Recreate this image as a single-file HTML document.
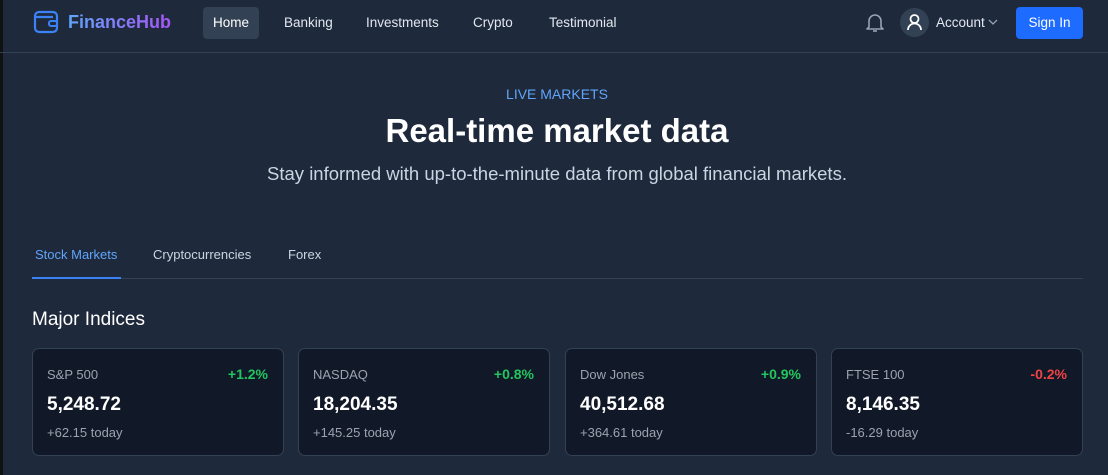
<!DOCTYPE html>
<html><head><meta charset="utf-8"><style>
*{box-sizing:border-box;margin:0;padding:0}
body{width:1108px;height:475px;overflow:hidden;background:#1e293b;font-family:"Liberation Sans","DejaVu Sans",sans-serif;position:relative;color:#fff}
.abs{position:absolute;white-space:nowrap}
.nav{position:absolute;left:0;top:0;width:1108px;height:53px;border-bottom:1px solid #334155}
.navi{font-size:13.5px;color:#e2e8f0;top:15px}
.card{position:absolute;top:348px;width:252px;height:108px;background:#111827;border:1px solid #334155;border-radius:7px}
.card .l{position:absolute;left:14px;top:18px;font-size:13px;color:#9ca3af}
.card .p{position:absolute;right:15px;top:17px;font-size:14px;color:#22c55e;font-weight:bold}
.card .v{position:absolute;left:14px;top:45px;font-size:19px;font-weight:bold;color:#fff}
.card .s{position:absolute;left:14px;top:76px;font-size:13px;color:#9ca3af}
</style></head><body>
<div class="abs" style="left:0;top:0;width:3px;height:475px;background:#111"></div>
<div class="nav">
<svg class="abs" style="left:33px;top:10px" width="26" height="24" viewBox="0 0 26 24"><rect x="2" y="2" width="22" height="20" rx="4" fill="none" stroke="#3b82f6" stroke-width="2.2"/><path d="M2 7h18" stroke="#3b82f6" stroke-width="2.2"/><rect x="16" y="11" width="8" height="5" rx="2" fill="#1e293b" stroke="#3b82f6" stroke-width="2"/></svg>
<div class="abs" style="left:68px;top:12px;font-size:18px;font-weight:bold;background:linear-gradient(90deg,#60a5fa,#a855f7);-webkit-background-clip:text;color:transparent">FinanceHub</div>
<div class="abs navi" style="left:203px;top:7px;width:56px;height:32px;background:#334155;border-radius:4px;text-align:center;line-height:32px;color:#fff">Home</div>
<div class="abs navi" style="left:284px">Banking</div>
<div class="abs navi" style="left:366px">Investments</div>
<div class="abs navi" style="left:473px">Crypto</div>
<div class="abs navi" style="left:549px">Testimonial</div>
<svg class="abs" style="left:864px;top:11px" width="22" height="22" viewBox="0 0 22 22"><path d="M5 16V10a6 6 0 0 1 12 0v6l2 2H3z" fill="none" stroke="#94a3b8" stroke-width="1.6" stroke-linejoin="round"/><path d="M9 20h4" stroke="#94a3b8" stroke-width="1.6"/></svg>
<div class="abs" style="left:900px;top:8px;width:29px;height:29px;border-radius:50%;background:#334155"><svg width="29" height="29" viewBox="0 0 29 29"><circle cx="14.5" cy="11" r="4" fill="none" stroke="#fff" stroke-width="1.8"/><path d="M8 22a6.5 6.5 0 0 1 13 0" fill="none" stroke="#fff" stroke-width="1.8"/></svg></div>
<div class="abs navi" style="left:936px">Account</div>
<svg class="abs" style="left:988px;top:19px" width="10" height="6" viewBox="0 0 10 6"><path d="M1 1l4 4 4-4" fill="none" stroke="#94a3b8" stroke-width="1.3"/></svg>
<div class="abs" style="left:1016px;top:7px;width:67px;height:32px;background:#1d6bff;border-radius:4px;font-size:13.5px;text-align:center;line-height:32px;color:#fff">Sign In</div>
</div>
<div class="abs" style="left:0;width:1114px;text-align:center;top:86px;font-size:14px;color:#60a5fa">LIVE MARKETS</div>
<div class="abs" style="left:0;width:1114px;text-align:center;top:112px;font-size:33px;font-weight:bold">Real-time market data</div>
<div class="abs" style="left:0;width:1114px;text-align:center;top:163px;font-size:18.5px;color:#cbd5e1">Stay informed with up-to-the-minute data from global financial markets.</div>
<div class="abs" style="left:32px;top:278px;width:1051px;height:1px;background:#334155"></div>
<div class="abs" style="left:35px;top:247px;font-size:13px;color:#60a5fa">Stock Markets</div>
<div class="abs" style="left:32px;top:277px;width:89px;height:2px;background:#3b82f6"></div>
<div class="abs" style="left:153px;top:247px;font-size:13px;color:#cbd5e1">Cryptocurrencies</div>
<div class="abs" style="left:288px;top:247px;font-size:13px;color:#cbd5e1">Forex</div>
<div class="abs" style="left:32px;top:309px;font-size:19px">Major Indices</div>
<div class="card" style="left:32px"><div class="l">S&amp;P 500</div><div class="p">+1.2%</div><div class="v">5,248.72</div><div class="s">+62.15 today</div></div>
<div class="card" style="left:298px"><div class="l">NASDAQ</div><div class="p">+0.8%</div><div class="v">18,204.35</div><div class="s">+145.25 today</div></div>
<div class="card" style="left:565px"><div class="l">Dow Jones</div><div class="p">+0.9%</div><div class="v">40,512.68</div><div class="s">+364.61 today</div></div>
<div class="card" style="left:831px"><div class="l">FTSE 100</div><div class="p" style="color:#ef4444">-0.2%</div><div class="v">8,146.35</div><div class="s">-16.29 today</div></div>
</body></html>
